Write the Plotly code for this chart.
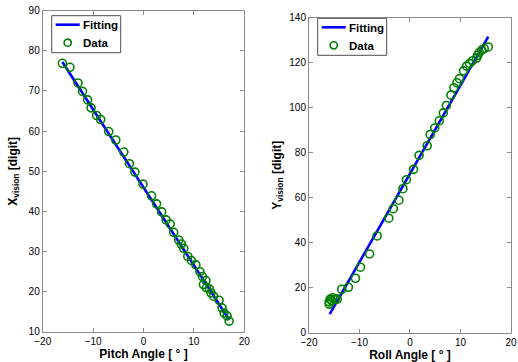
import numpy as np
import plotly.graph_objects as go

# Pitch calibration: angle [deg] vs X position in vision frame [digit]
pitch_angle = [-16.1, -14.6, -13.0, -12.1, -11.1, -10.4, -9.3, -8.5, -6.9, -5.5,
               -3.9, -2.8, -1.7, -0.1, 1.6, 2.6, 3.6, 4.5, 5.3, 6.0, 7.0, 7.5,
               8.0, 8.8, 9.5, 10.4, 11.2, 11.7, 12.4, 11.9, 12.5, 13.1, 13.4,
               13.9, 15.0, 15.6, 16.0, 16.6, 17.0]
x_vision = [76.9, 75.9, 72.0, 69.9, 67.8, 65.8, 63.9, 62.9, 59.9, 57.8,
            54.8, 51.9, 49.8, 46.8, 43.9, 41.9, 39.9, 37.9, 36.9, 34.8, 32.9, 31.9,
            30.8, 28.8, 27.8, 26.7, 25.0, 23.8, 22.8, 21.8, 21.0, 20.7, 19.7,
            18.9, 17.9, 16.0, 14.7, 14.0, 12.7]
pitch_fit_range = [-16.1, 17.0]
pitch_fit_coef = [-1.94, 46.0]   # slope, intercept

# Roll calibration: angle [deg] vs Y position in vision frame [digit]
roll_angle = [-16.0, -16.0, -15.8, -15.5, -15.3, -14.8, -14.4, -13.5, -12.2, -10.8,
              -9.8, -8.0, -6.5, -4.2, -3.3, -2.2, -1.4, -0.7, 0.7, 1.8,
              3.4, 4.0, 4.9, 5.8, 6.6, 7.2, 8.1, 8.7, 9.3, 9.8,
              10.6, 11.2, 11.8, 12.4, 13.2, 13.4, 13.7, 14.2, 14.7, 15.5]
y_vision = [12.7, 13.7, 14.9, 14.2, 15.5, 14.8, 14.9, 19.3, 20.2, 24.2,
            29.1, 35.0, 43.0, 50.9, 55.1, 58.9, 64.0, 68.0, 72.6, 78.8,
            83.1, 88.1, 91.0, 94.2, 97.7, 101.0, 105.6, 108.9, 111.1, 112.9,
            116.4, 118.5, 119.7, 120.9, 122.1, 123.3, 124.5, 125.6, 126.3, 127.0]
roll_fit_range = [-15.9, 15.5]
roll_fit_coef = [3.93, 70.7]

legend_labels = ["Fitting", "Data"]

FONT = "Liberation Sans, Arial, sans-serif"
LINE_BLUE = "#0000ff"
MARK_GREEN = "#008000"
AX_GRAY = "#8c8c8c"
W, H = 518, 362

fig = go.Figure()


def add_panel(xs, ys, frange, coef, xaxis, yaxis):
    fx = np.array(frange)
    fy = coef[0] * fx + coef[1]
    fig.add_trace(go.Scatter(
        x=fx, y=fy, mode="lines", name=legend_labels[0],
        line=dict(color=LINE_BLUE, width=2.6),
        xaxis=xaxis, yaxis=yaxis, showlegend=False))
    fig.add_trace(go.Scatter(
        x=xs, y=ys, mode="markers", name=legend_labels[1],
        marker=dict(symbol="circle-open", size=8, color=MARK_GREEN,
                    line=dict(width=1.6, color=MARK_GREEN)),
        xaxis=xaxis, yaxis=yaxis, showlegend=False))


add_panel(pitch_angle, x_vision, pitch_fit_range, pitch_fit_coef, "x", "y")
add_panel(roll_angle, y_vision, roll_fit_range, roll_fit_coef, "x2", "y2")


def px(x):
    return x / W


def py(y):
    return 1 - y / H


def add_legend_box(left, top):
    """Compact boxed legend drawn in paper coordinates (pixel offsets from box corner)."""
    width, height = 69, 37
    fig.add_shape(type="rect", xref="paper", yref="paper",
                  x0=px(left), x1=px(left + width), y0=py(top + height), y1=py(top),
                  line=dict(color="#4d4d4d", width=1), fillcolor="white", layer="above")
    # line sample
    fig.add_shape(type="line", xref="paper", yref="paper",
                  x0=px(left + 4), x1=px(left + 28), y0=py(top + 9), y1=py(top + 9),
                  line=dict(color=LINE_BLUE, width=2.6), layer="above")
    # marker sample
    fig.add_shape(type="circle", xref="paper", yref="paper",
                  xsizemode="pixel", ysizemode="pixel",
                  xanchor=px(left + 16), yanchor=py(top + 27),
                  x0=-3.6, x1=3.6, y0=-3.6, y1=3.6,
                  line=dict(color=MARK_GREEN, width=1.6), layer="above")
    for i, label in enumerate(legend_labels):
        fig.add_annotation(xref="paper", yref="paper",
                           x=px(left + 29), y=py(top + 9.5 + 18 * i),
                           xanchor="left", yanchor="middle", showarrow=False,
                           text=f"<b>{label}</b>",
                           font=dict(family=FONT, size=11.5, color="black"))


add_legend_box(51.7, 15.7)
add_legend_box(317.7, 18.3)

axis_common = dict(
    showline=True, mirror="ticks", linecolor=AX_GRAY, linewidth=1,
    ticks="inside", ticklen=4, tickcolor=AX_GRAY,
    showgrid=False, zeroline=False, automargin=False,
    tickfont=dict(family=FONT, size=10, color="black"),
)
title_font = dict(family=FONT, size=12, color="black")

fig.update_layout(
    width=W, height=H,
    margin=dict(l=0, r=0, t=0, b=0),
    paper_bgcolor="white", plot_bgcolor="white",
    showlegend=False,
    xaxis=dict(domain=[0.0825, 0.4715], range=[-20, 20], dtick=10,
               title=dict(text="<b>Pitch Angle [ ° ]</b>", font=title_font, standoff=1),
               anchor="y", **axis_common),
    yaxis=dict(domain=[0.083, 0.9705], range=[10, 90], dtick=10,
               title=dict(text="<b>X<sub>vision</sub> [digit]</b>", font=title_font, standoff=8),
               anchor="x", **axis_common),
    xaxis2=dict(domain=[0.5965, 0.9865], range=[-20, 20], dtick=10,
                title=dict(text="<b>Roll Angle [ ° ]</b>", font=title_font, standoff=1),
                anchor="y2", **axis_common),
    yaxis2=dict(domain=[0.081, 0.951], range=[0, 140], dtick=20,
                title=dict(text="<b>Y<sub>vision</sub> [digit]</b>", font=title_font, standoff=5),
                anchor="x2", **axis_common),
)

fig.write_html("out.html")
